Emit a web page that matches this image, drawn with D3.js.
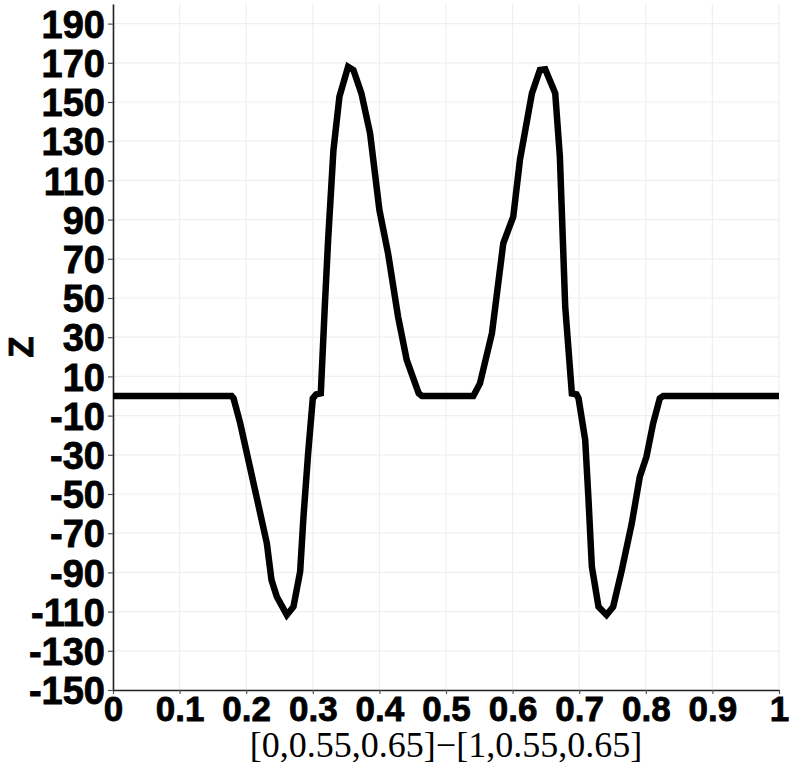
<!DOCTYPE html>
<html>
<head>
<meta charset="utf-8">
<script src="https://cdn.jsdelivr.net/npm/d3@7"></script>
<style>
  body { margin: 0; background: #fff; }
  .tick text { font-family: "Liberation Sans Narrow", "Liberation Sans", sans-serif; font-weight: bold; }
</style>
</head>
<body>
<div id="chart"></div>
<script>
const w = 790;
const h = 768;
const margin = { top: 4, right: 11, bottom: 78, left: 113 };

// points (position along the line, Z)
const xs = [0, 0.178, 0.181, 0.191, 0.201, 0.211, 0.221, 0.231, 0.238, 0.246, 0.261, 0.271, 0.281, 0.286, 0.293, 0.300,
  0.305, 0.312, 0.318, 0.323, 0.331, 0.340, 0.353, 0.361, 0.373, 0.386, 0.400, 0.413, 0.428, 0.441, 0.459, 0.464,
  0.541, 0.551, 0.569, 0.586, 0.601, 0.611, 0.629, 0.641, 0.649, 0.664, 0.671, 0.679, 0.689, 0.696,
  0.699, 0.709, 0.714, 0.719, 0.729, 0.741, 0.751, 0.764, 0.779, 0.791, 0.801, 0.811, 0.821, 0.826, 1];
const zs = [0, 0, -1.2, -13.9, -29.2, -44.5, -59.8, -75.2, -93.9, -102.4, -111.7, -107.5, -89.6, -61.6, -29.2, -1.2,
  0.8, 1.3, 45.6, 79.6, 125.5, 152.7, 168.0, 166.3, 154.4, 134.0, 94.9, 72.8, 40.5, 18.4, 1.4, 0,
  0, 6.4, 32.0, 77.9, 91.5, 120.4, 154.4, 166.3, 166.7, 154.4, 122.0, 45.6, 1.3, 0.8,
  -1.2, -22.4, -53.0, -87.1, -107.5, -111.7, -107.5, -88.8, -64.9, -41.2, -31.0, -14.0, -1.2, 0, 0];
const yTicks = d3.range(-150, 191, 20);
const xTicks = d3.range(0, 1.01, 0.1);
const xTitle = "[0,0.55,0.65]\u2212[1,0.55,0.65]";
const yTitle = "Z";

const svg = d3.select("#chart").append("svg")
    .attr("width", w)
    .attr("height", h);

const xScale = d3.scaleLinear().domain([0, 1]).range([margin.left, w - margin.right]);
const yScale = d3.scaleLinear().domain([-150, 200]).range([h - margin.bottom, margin.top]);

//Grid
svg.append("g").selectAll("line")
   .data(yTicks)
   .join("line")
   .attr("x1", margin.left).attr("x2", w - margin.right)
   .attr("y1", d => yScale(d)).attr("y2", d => yScale(d))
   .attr("stroke", "#efefef").attr("stroke-width", 1.2);
svg.append("g").selectAll("line")
   .data(xTicks)
   .join("line")
   .attr("x1", d => xScale(d)).attr("x2", d => xScale(d))
   .attr("y1", margin.top).attr("y2", h - margin.bottom)
   .attr("stroke", "#efefef").attr("stroke-width", 1.2);

//Axes
const xAxis = d3.axisBottom(xScale)
    .tickValues(xTicks)
    .tickSize(4)
    .tickSizeOuter(0)
    .tickFormat(d => String(+d.toFixed(1)));
const gx = svg.append("g")
   .attr("transform", `translate(0, ${h - margin.bottom})`)
   .call(xAxis);
gx.selectAll("text").attr("font-size", 35).attr("dy", "0.68em").attr("fill", "#000")
  .attr("stroke", "#000").attr("stroke-width", 0.8);

const yAxis = d3.axisLeft(yScale)
    .tickValues(yTicks)
    .tickSize(5)
    .tickSizeOuter(0)
    .tickFormat(d => String(d));
const gy = svg.append("g")
   .attr("transform", `translate(${margin.left}, 0)`)
   .call(yAxis);
gy.selectAll("text").attr("font-size", 38).attr("x", -8).attr("dy", "0.36em").attr("fill", "#000")
  .attr("stroke", "#000").attr("stroke-width", 0.8);

[gx, gy].forEach(g => {
  g.select(".domain").attr("stroke", "#222").attr("stroke-width", 1.6);
  g.selectAll(".tick line").attr("stroke", "#555").attr("stroke-width", 1.2);
});

//Line
const line = d3.line()
    .x((d, i) => xScale(xs[i]))
    .y(d => yScale(d));
svg.append("path")
   .datum(zs)
   .attr("fill", "none")
   .attr("stroke", "#000")
   .attr("stroke-width", 6.5)
   .attr("stroke-linejoin", "miter")
   .attr("d", line);

//Titles
svg.append("text")
   .attr("x", (margin.left + w - margin.right) / 2)
   .attr("y", 757)
   .attr("text-anchor", "middle")
   .style("font-family", "'Liberation Serif', 'DejaVu Serif', serif")
   .style("font-size", "36px")
   .text(xTitle);

svg.append("text")
   .attr("transform", "translate(33, 347) rotate(-90)")
   .attr("text-anchor", "middle")
   .style("font-family", "'Liberation Sans Narrow', 'Liberation Sans', sans-serif")
   .style("font-weight", "bold")
   .style("font-size", "35px")
   .attr("stroke", "#000").attr("stroke-width", 0.8)
   .text(yTitle);
</script>
</body>
</html>
